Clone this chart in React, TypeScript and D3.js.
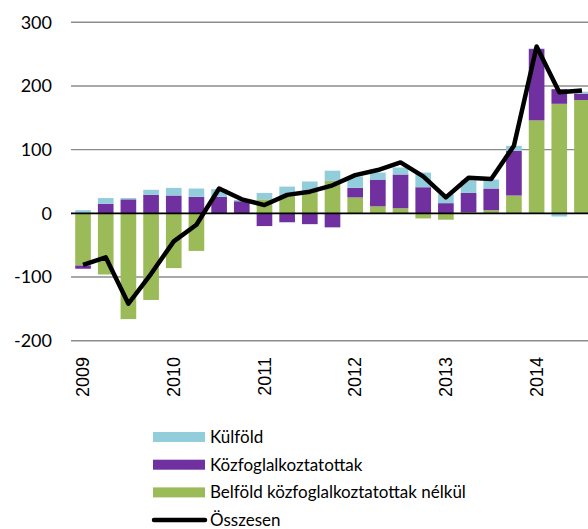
import React from 'react';
import * as d3 from 'd3';

// Quarterly categories 2009 Q1 – 2014 Q3
const quarters = [
  '2009Q1', '2009Q2', '2009Q3', '2009Q4',
  '2010Q1', '2010Q2', '2010Q3', '2010Q4',
  '2011Q1', '2011Q2', '2011Q3', '2011Q4',
  '2012Q1', '2012Q2', '2012Q3', '2012Q4',
  '2013Q1', '2013Q2', '2013Q3', '2013Q4',
  '2014Q1', '2014Q2', '2014Q3',
];

const belfold = [-82, -96, -166, -136, -86, -59, 0, 0, 22, 27, 35, 51, 25, 11, 8, -8, -10, 2, 5, 28, 146, 172, 178];
const kozfog = [-5, 15, 22, 29, 28, 26, 26, 19, -20, -14, -17, -22, 15, 42, 53, 41, 16, 30, 34, 70, 112, 23, 10];
const kulfold = [5, 9, 2, 8, 12, 13, 12, 2, 10, 15, 15, 16, 18, 11, 11, 23, 14, 20, 14, 8, 1, -5, 3];
const osszesen = [-81, -69, -142, -95, -44, -18, 39, 22, 13, 29, 34, 44, 60, 68, 80, 58, 25, 56, 54, 106, 262, 190, 193];

const yTicks = [-200, -100, 0, 100, 200, 300];
const yearLabels = ['2009', '2010', '2011', '2012', '2013', '2014'];

const seriesKeys = ['belfold', 'kozfog', 'kulfold'];
const colors: Record<string, string> = {
  kulfold: '#92cddc',
  kozfog: '#7030a0',
  belfold: '#9bbb59',
};

const legendItems = [
  { key: 'kulfold', label: 'Külföld' },
  { key: 'kozfog', label: 'Közfoglalkoztatottak' },
  { key: 'belfold', label: 'Belföld közfoglalkoztatottak nélkül' },
  { key: 'line', label: 'Összesen' },
];

const App = () => {
  const width = 588;
  const height = 529;

  const x = d3.scaleBand<string>()
    .domain(quarters)
    .range([71.7, 593.3])
    .paddingInner(0.31)
    .paddingOuter(0.155);

  const y = d3.scaleLinear().domain([-200, 300]).range([340.7, 22.3]);

  const rows = quarters.map((q, i) => ({
    q,
    belfold: belfold[i],
    kozfog: kozfog[i],
    kulfold: kulfold[i],
  }));

  const stacked = d3.stack<any>()
    .keys(seriesKeys)
    .offset(d3.stackOffsetDiverging)(rows);

  const cx = (q: string) => (x(q) ?? 0) + x.bandwidth() / 2;

  const line = d3.line<number>()
    .x((_, i) => cx(quarters[i]))
    .y(d => y(d))
    .curve(d3.curveLinear);

  const font = 'Lato, "Open Sans", sans-serif';

  return (
    <svg
      width={width}
      height={height}
      style={{ position: 'absolute', left: 0, top: 0, background: '#fff' }}
    >
      {/* grid */}
      {yTicks.filter(t => t !== 0).map(t => (
        <line key={t} x1={71} x2={593} y1={y(t)} y2={y(t)} stroke="#8c8c8c" strokeWidth={1.4} />
      ))}
      {yTicks.map(t => (
        <text
          key={`l${t}`}
          x={52}
          y={y(t)}
          dy="0.35em"
          textAnchor="end"
          fontFamily={font}
          fontSize={18}
          fill="#000"
        >
          {t}
        </text>
      ))}

      {/* bars */}
      {stacked.map(s => (
        <g key={s.key} fill={colors[s.key]}>
          {s.map((d, i) => (
            <rect
              key={i}
              x={x(quarters[i])}
              width={x.bandwidth()}
              y={y(Math.max(d[0], d[1]))}
              height={Math.abs(y(d[0]) - y(d[1]))}
            />
          ))}
        </g>
      ))}

      {/* zero line */}
      <line x1={71} x2={593} y1={y(0)} y2={y(0)} stroke="#000" strokeWidth={1.6} />

      {/* total line */}
      <path
        d={line(osszesen) ?? ''}
        fill="none"
        stroke="#000"
        strokeWidth={4.5}
        strokeLinejoin="round"
      />

      {/* x labels */}
      {yearLabels.map(yr => (
        <text
          key={yr}
          transform={`translate(${cx(`${yr}Q1`)},357) rotate(-90)`}
          dy="0.35em"
          textAnchor="end"
          fontFamily='"Liberation Sans", Arial, sans-serif'
          fontSize={18}
          fill="#000"
        >
          {yr}
        </text>
      ))}

      {/* legend */}
      {legendItems.map((item, i) => {
        const ly = 437 + i * 27.7;
        return (
          <g key={item.key}>
            {item.key === 'line' ? (
              <line x1={154} x2={205} y1={ly} y2={ly} stroke="#000" strokeWidth={4.5} strokeLinecap="round" />
            ) : (
              <rect x={153} y={ly - 5} width={52} height={10} fill={colors[item.key]} />
            )}
            <text x={210} y={ly} dy="0.35em" fontFamily={font} fontSize={17} fill="#000">
              {item.label}
            </text>
          </g>
        );
      })}
    </svg>
  );
};

export default App;
